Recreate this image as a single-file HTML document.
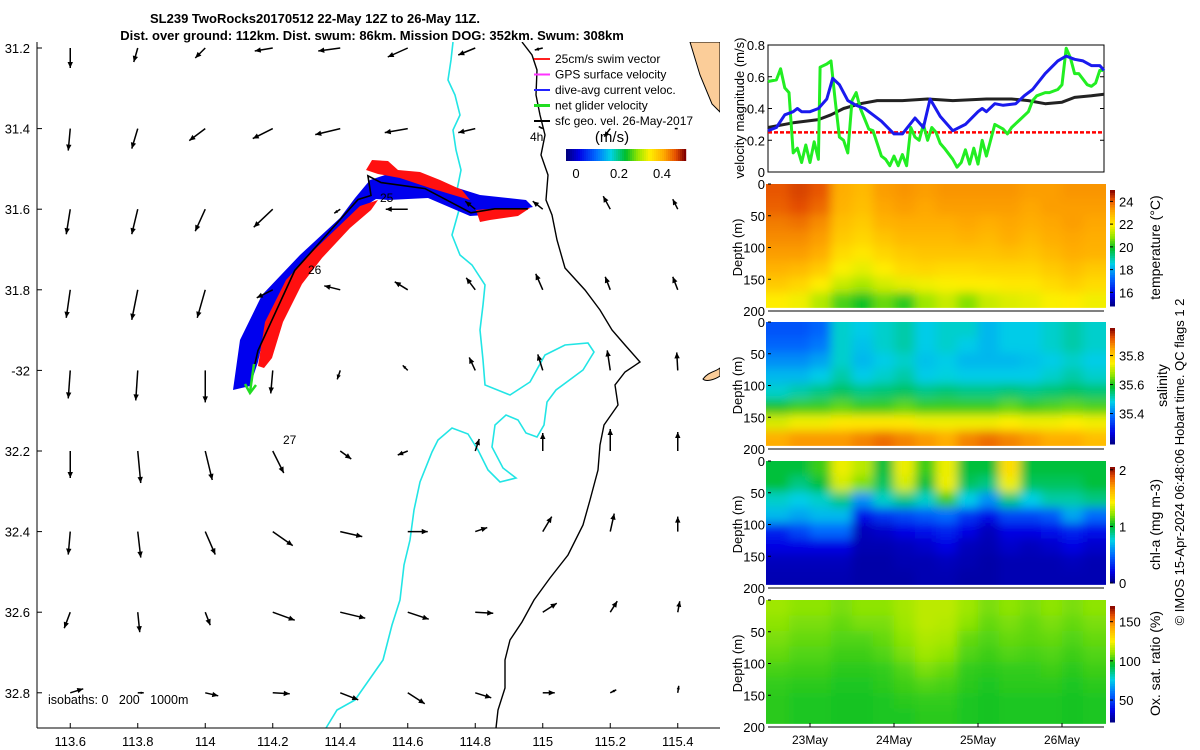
<!DOCTYPE html>
<html><head><meta charset="utf-8"><style>
html,body{margin:0;padding:0;background:#fff;}
svg{display:block;font-family:"Liberation Sans","DejaVu Sans",sans-serif;}
</style></head><body>
<svg id="fig" width="1200" height="750" viewBox="0 0 1200 750" xmlns="http://www.w3.org/2000/svg">
<defs>
<filter id="blur" x="-5%" y="-5%" width="110%" height="110%"><feGaussianBlur stdDeviation="5" edgeMode="duplicate"/></filter>
<clipPath id="mapclip"><rect x="37" y="42" width="683" height="686"/></clipPath>
</defs>
<text x="315" y="23" text-anchor="middle" font-size="13" font-weight="bold">SL239 TwoRocks20170512 22-May 12Z to 26-May 11Z.</text>
<text x="372" y="40" text-anchor="middle" font-size="13" font-weight="bold">Dist. over ground: 112km. Dist. swum: 86km. Mission DOG: 352km. Swum: 308km</text>
<g id="map"></g>
<g id="vel"></g>
<g id="heat"></g>
<text transform="translate(1184,462) rotate(-90)" text-anchor="middle" font-size="13">© IMOS 15-Apr-2024 06:48:06 Hobart time. QC flags 1  2</text>
</svg>
<script>
// ---------- data ----------
const mapLonTicks=[113.6,113.8,114,114.2,114.4,114.6,114.8,115,115.2,115.4];
const mapLatTicks=[31.2,31.4,31.6,31.8,32,32.2,32.4,32.6,32.8];
const mapLatLabels=["31.2","31.4","31.6","31.8","-32","32.2","32.4","32.6","32.8"];
// surface geostrophic velocity (cm/s), rows = latitude ticks, cols = longitude ticks
const arrowU=[
[0,-4,-10,-18,-22,-20,-17,-8,0,0],
[-2,-6,-16,-20,-25,-23,-17,-4,-6,-3],
[-4,-6,-10,-19,-6,-22,-10,-10,-7,-5],
[-4,-6,-8,-16,-16,-13,-9,-7,-5,-5],
[-2,-2,0,-2,-3,-5,-6,-5,-3,-1],
[0,3,7,11,11,-10,4,0,0,0],
[-2,3,10,20,22,20,12,9,4,0],
[-6,2,5,22,25,21,18,14,7,2],
[13,6,13,17,18,17,16,12,6,1]];
const arrowV=[
[-20,-14,-10,-3,-3,-9,-7,-2,0,0],
[-22,-20,-12,-10,-6,-4,-4,2,-8,0],
[-25,-25,-22,-18,-4,0,8,8,13,10],
[-28,-30,-28,-8,4,8,12,16,13,13],
[-28,-30,-32,-23,-9,5,13,16,20,18],
[-27,-32,-29,-22,-8,-4,12,18,22,19],
[-23,-26,-23,-14,-5,0,4,15,18,15],
[-16,-20,-13,-8,-6,-7,-1,9,11,11],
[4,0,-3,-1,-7,-11,-5,0,3,7]];
// glider track (lon, lat)
const trackLon=[114.956,114.858,114.787,114.651,114.521,114.482,114.491,114.453,114.265,114.156,114.147];
const trackLat=[31.599,31.599,31.609,31.549,31.534,31.517,31.566,31.576,31.752,31.951,31.984];

// velocity panel (days since 22-May 12Z)
const gT=[0,0.1,0.15,0.2,0.25,0.3,0.35,0.4,0.45,0.5,0.55,0.6,0.62,0.7,0.75,0.8,0.85,0.9,0.95,1.0,1.05,1.1,1.2,1.25,1.3,1.35,1.4,1.45,1.5,1.55,1.6,1.65,1.7,1.75,1.8,1.85,1.9,1.95,2.0,2.05,2.1,2.2,2.25,2.3,2.35,2.4,2.45,2.5,2.55,2.6,2.65,2.7,2.8,2.85,2.9,3.0,3.1,3.15,3.2,3.3,3.35,3.45,3.5,3.55,3.6,3.65,3.7,3.8,3.85,3.9,3.95,4.0];
const gV=[0.57,0.58,0.65,0.53,0.5,0.12,0.15,0.06,0.17,0.06,0.19,0.08,0.66,0.68,0.7,0.45,0.22,0.2,0.12,0.45,0.5,0.4,0.27,0.26,0.18,0.1,0.08,0.04,0.1,0.04,0.11,0.04,0.28,0.22,0.2,0.3,0.2,0.28,0.25,0.18,0.15,0.08,0.03,0.06,0.14,0.05,0.15,0.05,0.2,0.1,0.2,0.3,0.27,0.24,0.28,0.33,0.38,0.45,0.48,0.5,0.5,0.52,0.55,0.78,0.72,0.62,0.62,0.55,0.54,0.56,0.64,0.64];
const bT=[0,0.1,0.2,0.3,0.35,0.4,0.5,0.6,0.7,0.77,0.85,0.95,1.05,1.15,1.25,1.35,1.5,1.6,1.75,1.85,1.93,2.05,2.2,2.35,2.5,2.55,2.6,2.7,2.8,2.95,3.05,3.15,3.3,3.45,3.55,3.65,3.75,3.85,3.95,4.0];
const bV=[0.26,0.28,0.36,0.38,0.4,0.38,0.38,0.4,0.46,0.59,0.55,0.45,0.42,0.4,0.36,0.32,0.24,0.24,0.34,0.28,0.46,0.35,0.26,0.3,0.38,0.4,0.38,0.43,0.42,0.43,0.48,0.52,0.62,0.7,0.73,0.71,0.7,0.67,0.67,0.64];
const kT=[0,0.3,0.6,0.75,0.9,1.1,1.3,1.6,1.9,2.2,2.6,2.9,3.1,3.3,3.5,3.65,3.85,4.0];
const kV=[0.28,0.31,0.33,0.36,0.4,0.43,0.45,0.45,0.46,0.45,0.46,0.46,0.45,0.43,0.44,0.47,0.48,0.49];
const swimV=0.25;
const velTicks=[0,0.2,0.4,0.6,0.8];
const dayTicks=[0.5,1.5,2.5,3.5];
const dayLabels=["23May","24May","25May","26May"];
const depthTicks=[0,50,100,150,200];

// sections: 8 depth bands (0-200m) x 16 time columns
const tempGrid=[
[24.1,24.3,24.1,23.1,22.9,23.3,23.4,23.3,23.4,23.4,23.4,23.4,23.3,23.3,23.4,23.4],
[24.0,24.2,23.9,23.0,22.8,23.2,23.3,23.2,23.3,23.3,23.3,23.3,23.2,23.3,23.3,23.3],
[23.7,23.8,23.5,22.8,22.6,23.0,23.1,23.1,23.1,23.2,23.1,23.2,23.1,23.2,23.3,23.2],
[23.5,23.5,23.3,22.6,22.4,22.7,22.9,22.9,22.9,23.0,22.9,23.1,22.9,23.1,23.2,23.1],
[23.3,23.3,23.1,22.3,22.1,22.4,22.6,22.7,22.7,22.7,22.7,22.8,22.7,22.9,23.1,23.0],
[23.0,22.9,22.6,21.9,21.7,22.0,22.3,22.4,22.3,22.3,22.4,22.4,22.4,22.6,22.8,22.6],
[22.6,22.4,22.0,21.4,21.1,21.5,21.7,21.8,21.9,22.0,22.0,22.1,22.1,22.3,22.5,22.3],
[22.0,21.8,21.2,20.4,20.0,20.6,20.2,21.0,21.4,20.8,21.4,21.6,21.7,21.9,22.0,21.8]];
const salGrid=[
[35.36,35.36,35.38,35.50,35.48,35.50,35.52,35.48,35.50,35.50,35.46,35.48,35.48,35.50,35.52,35.50],
[35.38,35.38,35.40,35.50,35.47,35.50,35.52,35.48,35.50,35.48,35.46,35.48,35.48,35.50,35.52,35.50],
[35.42,35.42,35.44,35.50,35.46,35.48,35.50,35.47,35.48,35.46,35.46,35.46,35.47,35.48,35.50,35.48],
[35.46,35.46,35.48,35.52,35.48,35.50,35.52,35.48,35.49,35.48,35.48,35.48,35.48,35.50,35.52,35.50],
[35.50,35.52,35.54,35.56,35.54,35.55,35.56,35.54,35.55,35.54,35.54,35.55,35.54,35.55,35.56,35.55],
[35.60,35.62,35.62,35.64,35.62,35.62,35.64,35.62,35.62,35.62,35.62,35.64,35.62,35.63,35.64,35.63],
[35.72,35.74,35.74,35.76,35.76,35.76,35.76,35.74,35.74,35.74,35.74,35.75,35.74,35.74,35.75,35.74],
[35.84,35.86,35.86,35.86,35.88,35.90,35.88,35.86,35.84,35.88,35.90,35.88,35.86,35.84,35.84,35.82]];
const chlGrid=[
[1.0,1.0,1.1,1.4,1.3,1.0,1.4,1.1,1.4,1.0,1.0,1.5,1.0,1.0,1.0,1.0],
[1.0,0.9,1.0,1.35,1.2,0.95,1.35,1.0,1.4,0.95,0.9,1.4,0.95,0.95,0.95,1.0],
[0.8,0.75,0.8,0.9,0.6,0.8,0.9,0.8,1.1,0.75,0.6,0.9,0.75,0.85,0.85,0.9],
[0.7,0.65,0.7,0.7,0.25,0.35,0.4,0.45,0.5,0.35,0.25,0.4,0.4,0.45,0.65,0.5],
[0.3,0.4,0.5,0.5,0.12,0.15,0.2,0.25,0.3,0.2,0.12,0.2,0.2,0.25,0.3,0.25],
[0.2,0.2,0.2,0.2,0.1,0.1,0.12,0.15,0.2,0.12,0.1,0.15,0.12,0.15,0.2,0.15],
[0.12,0.12,0.12,0.12,0.08,0.08,0.1,0.1,0.12,0.1,0.08,0.1,0.1,0.1,0.12,0.1],
[0.1,0.1,0.1,0.1,0.08,0.08,0.08,0.1,0.1,0.08,0.08,0.1,0.1,0.1,0.1,0.1]];
const oxyGrid=[
[112,110,110,108,110,110,113,116,116,112,108,110,108,110,108,110],
[110,108,108,106,108,108,112,116,115,110,106,108,106,108,106,108],
[108,106,106,104,104,106,110,114,113,106,104,106,105,106,104,106],
[106,104,104,102,102,104,108,112,110,104,102,104,103,104,102,104],
[103,102,102,100,100,101,104,108,106,101,100,101,101,102,100,102],
[101,100,100,99,99,100,102,104,103,100,99,100,100,100,99,100],
[100,99,99,98,98,99,100,101,101,99,98,99,99,99,98,99],
[100,99,99,98,98,99,99,100,100,99,98,99,99,99,98,99]];
const tempCbTicks=[16,18,20,22,24];
const salCbTicks=[35.4,35.6,35.8];
const chlCbTicks=[0,1,2];
const oxyCbTicks=[50,100,150];

// ---------- helpers ----------
const NS="http://www.w3.org/2000/svg";
function mk(tag,attrs,parent){const e=document.createElementNS(NS,tag);for(const k in attrs)e.setAttribute(k,attrs[k]);parent.appendChild(e);return e;}
function cl(v){return Math.max(0,Math.min(1,v));}
const CM=[[0,0,0,128],[0.1,0,0,230],[0.25,0,110,255],[0.37,0,210,230],[0.5,0,190,40],[0.6,150,230,0],[0.7,255,240,0],[0.82,255,170,0],[0.92,230,80,0],[1,130,0,0]];
function jet(v){v=cl(v);for(let i=1;i<CM.length;i++){if(v<=CM[i][0]){const a=CM[i-1],b=CM[i],f=(v-a[0])/(b[0]-a[0]);
  return `rgb(${Math.round(a[1]+f*(b[1]-a[1]))},${Math.round(a[2]+f*(b[2]-a[2]))},${Math.round(a[3]+f*(b[3]-a[3]))})`;}}return 'rgb(130,0,0)';}

// ---------- map ----------
const map=document.getElementById('map');
const lonX=lon=>36.5+(lon-113.5)*337.5;
const latY=lat=>48+(lat-31.2)*403;
const mg=mk('g',{'clip-path':'url(#mapclip)'},map);
let land=mk('polygon',{points:'690,42 720,42 720,112 712,104 700,75',fill:'#fbcd99',stroke:'#000','stroke-width':1},mg);


let isl=mk('path',{d:'M703,379 C708,372 715,372 720,368 L720,376 C714,380 706,382 703,379 Z',fill:'#fbcd99',stroke:'#000','stroke-width':1},mg);


let cy=mk('polyline',{points:'453,42 451,60 448,80 455,95 460,115 453,130 456,150 461,170 457,190 459,210 452,235 460,255 472,265 485,285 483,305 480,330 483,360 485,385 510,395 530,382 545,355 565,345 588,343 594,352 583,370 556,390 547,402 544,425 537,437 526,433 518,420 506,415 495,425 492,447 503,468 516,478 500,482 488,470 478,450 468,434 452,428 438,440 432,452 420,482 414,510 410,540 404,565 400,600 392,625 383,660 355,700 337,710 326,728',fill:'none',stroke:'#22e5e5','stroke-width':1.6},mg);


let bk=mk('polyline',{points:'522,42 532,55 537,70 536,95 540,115 545,135 541,155 548,175 546,200 552,215 557,240 565,268 585,290 600,310 612,330 625,345 640,362 625,372 615,385 618,405 604,425 600,445 598,470 590,500 583,525 568,555 550,578 534,600 522,622 510,640 505,660 505,688 498,710 496,728',fill:'none',stroke:'#000','stroke-width':1.4},mg);


let bl=mk('polygon',{points:'233,390 240,340 262,295 300,255 340,218 355,198 370,180 388,174 432,180 480,195 526,200 533,207 500,214 470,216 428,198 388,200 376,199 356,212 312,256 282,292 265,330 258,362 250,386',fill:'#0000ee'},mg);


let rd1=mk('polygon',{points:'258,366 265,322 286,280 312,252 360,206 378,200 371,210 350,228 322,258 302,284 283,322 272,358 264,368',fill:'#ff1010'},mg);


let rd2=mk('polygon',{points:'366,170 372,160 388,161 398,170 420,172 440,180 462,190 470,200 430,188 400,178 378,174',fill:'#ff1010'},mg);


let rd3=mk('polygon',{points:'476,210 500,208 530,208 518,216 490,220 480,222',fill:'#ff1010'},mg);


let tp=trackLon.map((lo,i)=>lonX(lo).toFixed(1)+','+latY(trackLat[i]).toFixed(1)).join(' ');
let tr=mk('polyline',{points:tp,fill:'none',stroke:'#000','stroke-width':1.6},mg);


for(let r=0;r<mapLatTicks.length;r++)for(let c=0;c<mapLonTicks.length;c++){
  const x0=lonX(mapLonTicks[c]),y0=latY(mapLatTicks[r]);
  const dx=arrowU[r][c],dy=-arrowV[r][c];
  const L=Math.hypot(dx,dy); if(L<0.5) continue;
  const g=mk('g',{},mg);
  
  
  const x1=x0+dx,y1=y0+dy,ux=dx/L,uy=dy/L,h=Math.min(6,L*0.5);
  mk('line',{x1:x0,y1:y0,x2:x1,y2:y1,stroke:'#000','stroke-width':1.5},g);
  mk('polygon',{points:`${x1},${y1} ${x1-ux*h-uy*h*0.45},${y1-uy*h+ux*h*0.45} ${x1-ux*h+uy*h*0.45},${y1-uy*h-ux*h*0.45}`,fill:'#000'},g);
}
let ga=mk('g',{},mg);


mk('line',{x1:254,y1:364,x2:250,y2:392,stroke:'#22dd22','stroke-width':2.5},ga);
mk('polyline',{points:'245,384 250,393 256,385',fill:'none',stroke:'#22dd22','stroke-width':2.5},ga);
[['25',380,202],['26',308,274],['27',283,444],['4h',530,141]].forEach(a=>{let t=mk('text',{x:a[1],y:a[2],'font-size':12},mg);t.textContent=a[0];});
const legItems=[['25cm/s swim vector','#ff2020'],['GPS surface velocity','#ff33ff'],['dive-avg current veloc.','#2222ff'],['net glider velocity','#22dd22'],['sfc geo. vel. 26-May-2017','#000']];
legItems.forEach((it,i)=>{const y=63+i*15.5;const g=mk('g',{},map);
  
  
  mk('line',{x1:534,y1:y-4,x2:550,y2:y-4,stroke:it[1],'stroke-width':i==3?3:2},g);
  const t=mk('text',{x:555,y:y,'font-size':12},g);t.textContent=it[0];});
let mu=mk('text',{x:612,y:142,'font-size':15,'text-anchor':'middle'},map);mu.textContent='(m/s)';


for(let i=0;i<60;i++){mk('rect',{x:566+i*2,y:149,width:2.2,height:12,fill:jet(i/59)},map);}
[[0,576],[0.2,619],[0.4,662]].forEach(a=>{let t=mk('text',{x:a[1],y:178,'font-size':13,'text-anchor':'middle'},map);t.textContent=a[0];});
let iso=mk('text',{x:48,y:704,'font-size':12.5},map);iso.textContent='isobaths: 0   200   1000m';


iso.setAttribute('style','white-space:pre');
mk('line',{x1:37,y1:42,x2:37,y2:728,stroke:'#000','stroke-width':1},map);
mk('line',{x1:37,y1:728,x2:720,y2:728,stroke:'#000','stroke-width':1},map);
mapLonTicks.forEach(lo=>{const x=lonX(lo);mk('line',{x1:x,y1:728,x2:x,y2:723,stroke:'#000'},map);
  const t=mk('text',{x:x,y:746,'font-size':13,'text-anchor':'middle'},map);t.textContent=String(lo);
  });
mapLatTicks.forEach((la,i)=>{const y=latY(la);mk('line',{x1:37,y1:y,x2:42,y2:y,stroke:'#000'},map);
  const t=mk('text',{x:30,y:y+5,'font-size':13,'text-anchor':'end'},map);t.textContent=mapLatLabels[i];
  });

// ---------- velocity panel ----------
const vel=document.getElementById('vel');
const PX0=768,PX1=1104;
const tX=t=>PX0+(t/4)*(PX1-PX0);
const vY=v=>172-v*158.75;
mk('rect',{x:PX0,y:45,width:PX1-PX0,height:127,fill:'none',stroke:'#000'},vel);
velTicks.forEach(v=>{const y=vY(v);mk('line',{x1:PX0,y1:y,x2:PX0+4,y2:y,stroke:'#000'},vel);mk('line',{x1:PX1,y1:y,x2:PX1-4,y2:y,stroke:'#000'},vel);
  const t=mk('text',{x:765,y:y+5,'font-size':13,'text-anchor':'end'},vel);t.textContent=String(v);
  });
let sw=mk('line',{x1:PX0,y1:vY(swimV),x2:PX1,y2:vY(swimV),stroke:'#ff0000','stroke-width':2.5,'stroke-dasharray':'4,2'},vel);


function series(T,V,col){return mk('polyline',{points:T.map((t,i)=>tX(t).toFixed(1)+','+vY(V[i]).toFixed(1)).join(' '),fill:'none',stroke:col,'stroke-width':3,'stroke-linejoin':'round'},vel);}
let s1=series(kT,kV,'#222');


let s2=series(gT,gV,'#22ee22');


let s3=series(bT,bV,'#1a1aee');


let vl=mk('text',{transform:'translate(744,108) rotate(-90)','font-size':13,'text-anchor':'middle'},vel);vl.textContent='velocity magnitude (m/s)';



// ---------- sections ----------
const heat=document.getElementById('heat');
const panels=[
 {grid:tempGrid,top:184,bot:311,min:14.8,max:25,ticks:tempCbTicks,label:'temperature (°C)',name:'temperature'},
 {grid:salGrid,top:322,bot:449,min:35.19,max:35.99,ticks:salCbTicks,label:'salinity',name:'salinity'},
 {grid:chlGrid,top:461,bot:588,min:0,max:2.05,ticks:chlCbTicks,label:'chl-a (mg m-3)',name:'chlorophyll'},
 {grid:oxyGrid,top:600,bot:727,min:22,max:170,ticks:oxyCbTicks,label:'Ox. sat. ratio (%)',name:'oxygen'}];
panels.forEach((P,pi)=>{
  const g=mk('g',{},heat);
  
  
  const h=P.bot-P.top, dataBot=P.top+h*0.975;
  const clipId='pc'+pi;
  const cp=mk('clipPath',{id:clipId},g);mk('rect',{x:PX0-2,y:P.top,width:PX1-PX0+4,height:dataBot-P.top},cp);
  const inner=mk('g',{'clip-path':`url(#${clipId})`},g);
  const blurG=mk('g',{filter:'url(#blur)'},inner);
  const nr=P.grid.length,nc=P.grid[0].length,cw=(PX1-PX0)/nc,rh=(dataBot-P.top)/nr;
  for(let r=0;r<nr;r++)for(let c=0;c<nc;c++){
    const v=(P.grid[r][c]-P.min)/(P.max-P.min);
    const x=PX0+c*cw-(c==0?20:0),y=P.top+r*rh-(r==0?20:0);
    const w=cw+(c==0?20:0)+(c==nc-1?20:0)+0.5,hh=rh+(r==0?20:0)+(r==nr-1?20:0)+0.5;
    const cell=mk('rect',{x:x,y:y,width:w,height:hh,fill:jet(v)},blurG);
    
    
  }
  mk('line',{x1:PX0,y1:P.bot,x2:PX1,y2:P.bot,stroke:'#000'},g);
  depthTicks.forEach(d=>{const y=P.top+d/200*h;
    mk('line',{x1:PX0,y1:y,x2:PX0+3,y2:y,stroke:'#000'},g);
    const t=mk('text',{x:765,y:y+5,'font-size':13,'text-anchor':'end'},g);t.textContent=String(d);
    });
  const dl=mk('text',{transform:`translate(742,${(P.top+P.bot)/2}) rotate(-90)`,'font-size':13,'text-anchor':'middle'},g);dl.textContent='Depth (m)';
  
  
  const cbTop=P.top+6,cbBot=P.bot-5,n=48;
  const cb=mk('g',{},g);
  
  
  for(let i=0;i<n;i++){mk('rect',{x:1110,y:cbBot-(i+1)*(cbBot-cbTop)/n,width:5,height:(cbBot-cbTop)/n+0.5,fill:jet((i+0.5)/n)},cb);}
  P.ticks.forEach(tv=>{const y=cbBot-(tv-P.min)/(P.max-P.min)*(cbBot-cbTop);
    mk('line',{x1:1110,y1:y,x2:1113,y2:y,stroke:'#000'},cb);
    const t=mk('text',{x:1119,y:y+5,'font-size':13},cb);t.textContent=String(tv);
    });
  const lab=mk('text',{transform:`translate(${pi==1?1167:1160},${(P.top+P.bot)/2}) rotate(-90)`,'font-size':14,'text-anchor':'middle'},g);lab.textContent=P.label;
  
  
});
dayTicks.forEach((d,i)=>{const x=tX(d);
  mk('line',{x1:x,y1:727,x2:x,y2:723,stroke:'#000'},heat);
  const t=mk('text',{x:x,y:744,'font-size':12,'text-anchor':'middle'},heat);t.textContent=dayLabels[i];
  });
</script>
</body></html>
